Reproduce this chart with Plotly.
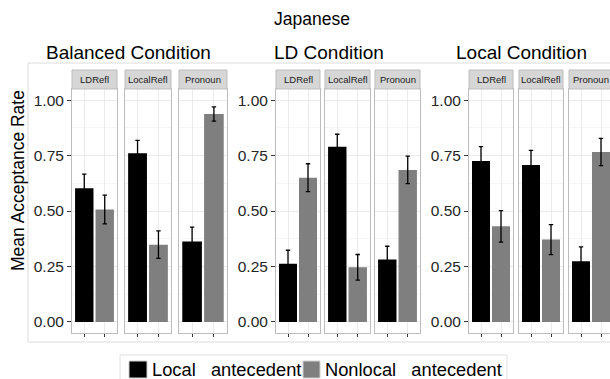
import plotly.graph_objects as go

PAGE_W, PAGE_H = 610, 379
W, H = PAGE_W, PAGE_H  # body margin is removed by post_script below

# ---------------- data ----------------
conditions = ["Balanced Condition", "LD Condition", "Local Condition"]
anaphors = ["LDRefl", "LocalRefl", "Pronoun"]
antecedents = ["Local antecedent", "Nonlocal antecedent"]
y_ticks = [0.0, 0.25, 0.5, 0.75, 1.0]
y_tick_labels = ["0.00", "0.25", "0.50", "0.75", "1.00"]

# mean acceptance rate per anaphor type (LDRefl, LocalRefl, Pronoun)
balanced_local = [0.603, 0.760, 0.363]
balanced_nonlocal = [0.507, 0.348, 0.937]
balanced_local_err = [0.063, 0.058, 0.064]
balanced_nonlocal_err = [0.065, 0.062, 0.032]

ld_local = [0.262, 0.790, 0.281]
ld_nonlocal = [0.650, 0.246, 0.685]
ld_local_err = [0.061, 0.056, 0.060]
ld_nonlocal_err = [0.063, 0.058, 0.062]

local_local = [0.725, 0.707, 0.273]
local_nonlocal = [0.431, 0.371, 0.766]
local_local_err = [0.065, 0.066, 0.065]
local_nonlocal_err = [0.071, 0.068, 0.061]

means_local = [balanced_local, ld_local, local_local]
means_nonlocal = [balanced_nonlocal, ld_nonlocal, local_nonlocal]
errs_local = [balanced_local_err, ld_local_err, local_local_err]
errs_nonlocal = [balanced_nonlocal_err, ld_nonlocal_err, local_nonlocal_err]

# ---------------- style / layout constants (page pixels) ----------------
FONT = "Liberation Sans, Arial, Helvetica, sans-serif"
BAR_COLORS = ["#000000", "#7f7f7f"]
PANEL_PX = [(72, 117), (125, 171), (179, 227),
            (276, 320), (325, 370), (375, 420),
            (469, 513), (519, 563), (569, 613)]
PANEL_TOP, PANEL_BOT = 89, 333
STRIP_TOP = 70
TITLE_X = [128.5, 328.5, 521.5]


def px(x):
    return x / W


def py(y):
    return 1 - y / H


fig = go.Figure()
layout = {}
shapes = []
annotations = []

for g in range(3):
    for a in range(3):
        k = g * 3 + a
        n = k + 1
        xref = "x" if n == 1 else f"x{n}"
        yref = "y" if n == 1 else f"y{n}"
        xkey = "xaxis" if n == 1 else f"xaxis{n}"
        ykey = "yaxis" if n == 1 else f"yaxis{n}"
        x0, x1 = PANEL_PX[k]
        x1c = min(x1, PAGE_W)
        frac = (x1c - x0) / (x1 - x0)

        fig.add_trace(go.Bar(
            x=antecedents,
            y=[means_local[g][a], means_nonlocal[g][a]],
            error_y=dict(type="data", array=[errs_local[g][a], errs_nonlocal[g][a]],
                         color="#000000", thickness=1.3, width=2.2),
            marker=dict(color=BAR_COLORS, line=dict(width=0)),
            width=0.9,
            xaxis=xref, yaxis=yref,
            showlegend=False,
        ))

        layout[xkey] = dict(
            domain=[px(x0), px(x1c)],
            anchor=yref,
            type="category",
            categoryorder="array", categoryarray=antecedents,
            range=[-0.6, -0.6 + 2.2 * frac],
            showticklabels=False,
            ticks="outside", ticklen=3, tickcolor="#333333", tickwidth=1,
            showgrid=True, gridcolor="#ebebeb", gridwidth=1,
            showline=True, mirror=True, linecolor="#bdbdbd", linewidth=1,
            zeroline=False, fixedrange=True,
        )
        first = (a == 0)
        layout[ykey] = dict(
            domain=[py(PANEL_BOT), py(PANEL_TOP)],
            anchor=xref,
            range=[-0.05, 1.05],
            tickvals=y_ticks, ticktext=y_tick_labels,
            showticklabels=first,
            ticks="outside" if first else "", ticklen=4, tickcolor="#333333", tickwidth=1,
            tickfont=dict(size=15.5, color="#262626", family=FONT),
            showgrid=True, gridcolor="#ebebeb", gridwidth=1,
            minor=dict(tickvals=[0.125, 0.375, 0.625, 0.875], showgrid=True,
                       gridcolor="#f6f6f6", gridwidth=1, ticks=""),
            showline=True, mirror=True, linecolor="#bdbdbd", linewidth=1,
            zeroline=False, fixedrange=True,
        )

        # strip
        shapes.append(dict(type="rect", xref="paper", yref="paper",
                           x0=px(x0), x1=px(x1), y0=py(PANEL_TOP), y1=py(STRIP_TOP),
                           fillcolor="#d6d6d6", line=dict(color="#bdbdbd", width=1),
                           layer="above"))
        annotations.append(dict(text=anaphors[a], xref="paper", yref="paper",
                                x=px((x0 + x1) / 2), y=py((STRIP_TOP + PANEL_TOP) / 2),
                                xanchor="center", yanchor="middle", showarrow=False,
                                font=dict(size=9.5, color="#1a1a1a", family=FONT)))

    annotations.append(dict(text=conditions[g], xref="paper", yref="paper",
                            x=px(TITLE_X[g]), y=py(53), xanchor="center", yanchor="middle",
                            showarrow=False, font=dict(size=19, color="#000000", family=FONT)))

# overall title
annotations.append(dict(text="Japanese", xref="paper", yref="paper",
                        x=px(312), y=py(19), xanchor="center", yanchor="middle",
                        showarrow=False, font=dict(size=17.5, color="#000000", family=FONT)))
# y axis title
annotations.append(dict(text="Mean Acceptance Rate", xref="paper", yref="paper",
                        x=px(18), y=py(181), xanchor="center", yanchor="middle", textangle=-90,
                        showarrow=False, font=dict(size=17.5, color="#000000", family=FONT)))

# outer plot background border
shapes.append(dict(type="rect", xref="paper", yref="paper",
                   x0=px(28), x1=px(PAGE_W + 20), y0=py(342), y1=py(63),
                   line=dict(color="#dcdcdc", width=1), fillcolor="rgba(0,0,0,0)", layer="below"))

# legend box + keys + labels
shapes.append(dict(type="rect", xref="paper", yref="paper",
                   x0=px(120), x1=px(507), y0=py(PAGE_H + 20), y1=py(355),
                   line=dict(color="#e0e0e0", width=1), fillcolor="rgba(0,0,0,0)"))
legend_keys_px = [(129, 147), (303, 320)]
legend_text_px = [150, 323]
for i, name in enumerate(antecedents):
    kx0, kx1 = legend_keys_px[i]
    shapes.append(dict(type="rect", xref="paper", yref="paper",
                       x0=px(kx0), x1=px(kx1), y0=py(378), y1=py(361),
                       fillcolor=BAR_COLORS[i], line=dict(color="#d0d0d0", width=1)))
    annotations.append(dict(text=name.replace(" ", "\u00a0\u00a0\u00a0"), xref="paper", yref="paper",
                            x=px(legend_text_px[i]), y=py(369), xanchor="left", yanchor="middle",
                            showarrow=False, font=dict(size=18.3, color="#000000", family=FONT)))

fig.update_layout(
    width=W, height=H, autosize=False,
    margin=dict(l=0, r=0, t=0, b=0),
    paper_bgcolor="white", plot_bgcolor="white",
    font=dict(family=FONT),
    bargap=0.1,
    shapes=shapes, annotations=annotations,
    showlegend=False,
    hovermode=False,
    **layout,
)

fig.write_html(
    "out.html",
    config={"displayModeBar": False, "staticPlot": True},
    post_script="document.body.style.margin='0';"
                "document.body.style.overflow='hidden';"
                "document.documentElement.style.overflow='hidden';",
)
